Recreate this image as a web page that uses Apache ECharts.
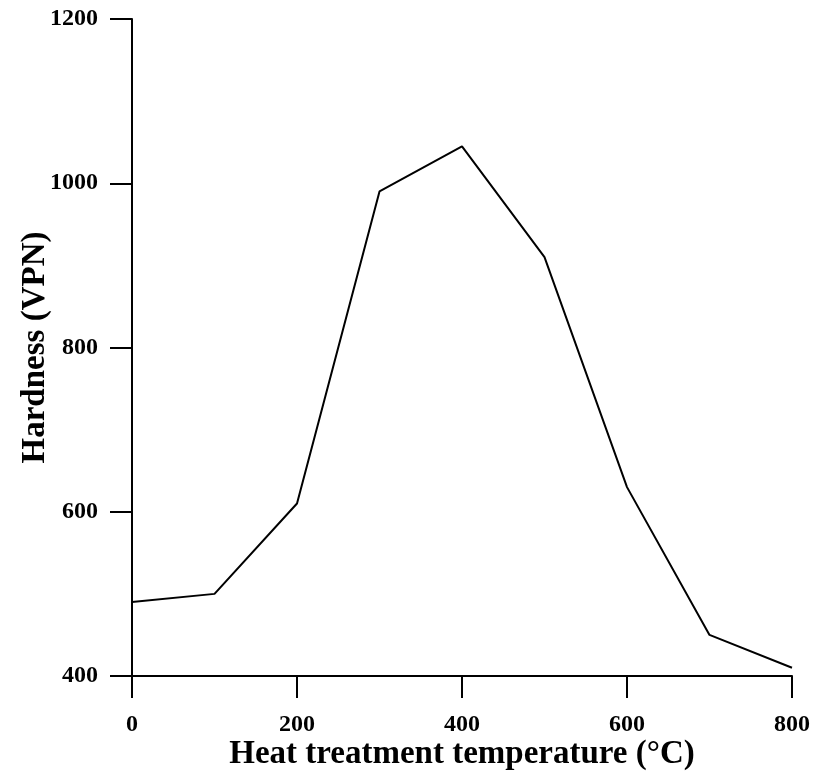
<!DOCTYPE html>
<html>
<head>
<meta charset="utf-8">
<script src="https://cdn.jsdelivr.net/npm/echarts@6/dist/echarts.min.js"></script>
<style>
  html, body { margin: 0; padding: 0; background: #fff; }
  #chart { width: 813px; height: 775px; }
</style>
</head>
<body>
<div id="chart"></div>
<script>
// Heat treatment temperature (°C) vs hardness (VPN)
const temperatures = [0, 100, 200, 300, 400, 500, 600, 700, 800];
const hardness = [490, 500, 610, 990, 1045, 910, 630, 450, 410];

const xTicks = { min: 0, max: 800, interval: 200 };
const yTicks = { min: 400, max: 1200, interval: 200 };

const serif = '"Liberation Serif", "Times New Roman", serif';

const chart = echarts.init(document.getElementById('chart'), null, { renderer: 'canvas' });

chart.setOption({
  animation: false,
  backgroundColor: '#ffffff',
  grid: { left: 132, right: 21, top: 19, bottom: 99, containLabel: false, outerBoundsMode: 'none' },
  xAxis: {
    type: 'value',
    min: xTicks.min, max: xTicks.max, interval: xTicks.interval,
    name: 'Heat treatment temperature (°C)',
    nameLocation: 'middle',
    nameGap: 62,
    nameMoveOverlap: false,
    nameTextStyle: { fontFamily: serif, fontWeight: 'bold', fontSize: 33, color: '#000' },
    axisLine: { show: true, onZero: false, lineStyle: { color: '#000', width: 2 } },
    axisTick: { show: true, inside: false, length: 22, lineStyle: { color: '#000', width: 2 } },
    axisLabel: { margin: 37, fontFamily: serif, fontWeight: 'bold', fontSize: 24, color: '#000', formatter: v => String(v) },
    splitLine: { show: false }
  },
  yAxis: {
    type: 'value',
    min: yTicks.min, max: yTicks.max, interval: yTicks.interval,
    name: 'Hardness (VPN)',
    nameLocation: 'middle',
    nameGap: 80,
    nameMoveOverlap: false,
    nameRotate: 90,
    nameTextStyle: { fontFamily: serif, fontWeight: 'bold', fontSize: 33, color: '#000' },
    axisLine: { show: true, onZero: false, lineStyle: { color: '#000', width: 2 } },
    axisTick: { show: true, inside: false, length: 22, lineStyle: { color: '#000', width: 2 } },
    axisLabel: { margin: 34, fontFamily: serif, fontWeight: 'bold', fontSize: 24, color: '#000', formatter: v => String(v) },
    splitLine: { show: false }
  },
  series: [{
    type: 'line',
    data: temperatures.map((t, i) => [t, hardness[i]]),
    showSymbol: false,
    symbol: 'none',
    lineStyle: { color: '#000', width: 2 },
    itemStyle: { color: '#000' }
  }]
});
</script>
</body>
</html>
